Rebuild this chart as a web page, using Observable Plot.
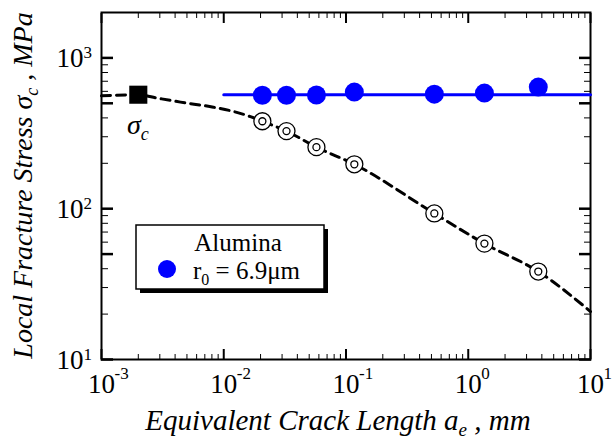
<!DOCTYPE html>
<html><head><meta charset="utf-8">
<script src="https://cdn.jsdelivr.net/npm/d3@7"></script>
<script src="https://cdn.jsdelivr.net/npm/@observablehq/plot@0.6"></script>
<style>body{margin:0;background:#fff} svg{display:block}</style>
</head><body><div id="chart"></div>
<script>
// ---- data ----
const crackLength = [0.0207, 0.0326, 0.0573, 0.117, 0.528, 1.356, 3.74];
const stressAlumina = [566, 566, 568, 593, 575, 584, 640];
const stressLocal = [380, 327, 256, 197, 93, 58.7, 38.3];
const sigmaC = 570;
const sigmaCCrack = 0.002;
const fitLineX = [0.01, 10];
const curveX = [0.001, 0.002, 0.00287, 0.00443, 0.00824, 0.01178, 0.01652, 0.0207, 0.0326, 0.0573, 0.117, 0.528, 1.356, 3.74, 10];
const curveY = [560, 570, 541, 509, 471, 443, 408, 380, 327, 256, 197, 93, 58.7, 38.3, 20.8];
const xMajor = [0.001, 0.01, 0.1, 1, 10];
const xExp = ["-3", "-2", "-1", "0", "1"];
const yMajor = [10, 100, 1000];
const yExp = ["1", "2", "3"];
const yMid = [50, 500];
const xTitle = ["Equivalent Crack Length a", "e", " , mm"];
const yTitle = ["Local Fracture Stress σ", "c", " , MPa"];
const legendTitle = "Alumina";
const legendLabel = ["r", "0", " = 6.9μm"];

const xMinor = [];
[0.001, 0.01, 0.1, 1].forEach(d => { for (let k = 2; k <= 9; k++) xMinor.push(d * k); });
const yMinor = [];
[10, 100, 1000].forEach(d => { for (let k = 2; k <= 9; k++) if (k !== 5 && d * k < 2000) yMinor.push(d * k); });

const pts = crackLength.map((a, i) => ({a, blue: stressAlumina[i], open: stressLocal[i]}));
const curve = curveX.map((a, i) => ({a, s: curveY[i]}));
const serif = "Liberation Serif, Times New Roman, serif";

const tickOpts = (anchor, size, w) => ({anchor, tickSize: size, strokeWidth: w, fill: "none", label: null,
  [anchor === "left" ? "insetLeft" : anchor === "right" ? "insetRight" : anchor === "top" ? "insetTop" : "insetBottom"]: size});

const chart = Plot.plot({
  width: 612, height: 442,
  marginLeft: 101, marginRight: 22, marginTop: 12, marginBottom: 83,
  style: {background: "#fff", color: "#000", fontFamily: serif},
  x: {type: "log", domain: [0.001, 10]},
  y: {type: "log", domain: [10, 2000]},
  marks: [
    Plot.axisX(xMajor, tickOpts("bottom", 10, 2)),
    Plot.axisX(xMinor, tickOpts("bottom", 5, 1)),
    Plot.axisX(xMajor, tickOpts("top", 10, 2)),
    Plot.axisX(xMinor, tickOpts("top", 5, 1)),
    Plot.axisY(yMajor.concat(yMid), tickOpts("left", 12, 2.5)),
    Plot.axisY(yMinor, tickOpts("left", 7, 1)),
    Plot.axisY(yMajor.concat(yMid), tickOpts("right", 12, 2.5)),
    Plot.axisY(yMinor, tickOpts("right", 7, 1)),
    Plot.frame({stroke: "#000", strokeWidth: 2}),
    Plot.text(xMajor, {x: d => d, text: () => "10", frameAnchor: "bottom", dx: 0, dy: 33, lineAnchor: "bottom", fontSize: 27, fontFamily: serif}),
    Plot.text(xMajor, {x: d => d, text: (d, i) => xExp[i], frameAnchor: "bottom", dx: 13, dy: 19, lineAnchor: "bottom", textAnchor: "start", fontSize: 17, fontFamily: serif}),
    Plot.text(yMajor, {y: d => d, text: () => "10", frameAnchor: "left", dx: -18, dy: 9, lineAnchor: "bottom", textAnchor: "end", fontSize: 27, fontFamily: serif}),
    Plot.text(yMajor, {y: d => d, text: (d, i) => yExp[i], frameAnchor: "left", dx: -18, dy: 0, lineAnchor: "bottom", textAnchor: "start", fontSize: 17, fontFamily: serif}),
    Plot.line(curve, {x: "a", y: "s", stroke: "#000", strokeWidth: 3, strokeDasharray: "9,6", curve: "monotone-x"}),
    Plot.line(fitLineX, {x: d => d, y: () => sigmaC, stroke: "#0000ff", strokeWidth: 3}),
    Plot.dot(pts, {x: "a", y: "blue", r: 9.5, fill: "#0000ff", stroke: "none"}),
    Plot.dot(pts, {x: "a", y: "open", r: 8.5, fill: "#fff", stroke: "#000", strokeWidth: 1.3}),
    Plot.dot(pts, {x: "a", y: "open", r: 3.5, fill: "none", stroke: "#000", strokeWidth: 1.3}),
    Plot.dot([sigmaCCrack], {x: d => d, y: () => sigmaC, symbol: "square", r: 10.2, fill: "#000", stroke: "none"})
  ]
});
document.getElementById("chart").appendChild(chart);

const svg = d3.select(chart);
function rich(g, parts, size, subSize, italic, anchor) {
  const t = g.attr("font-family", serif).attr("font-size", size).attr("font-style", italic ? "italic" : "normal")
    .attr("fill", "#000").attr("text-anchor", anchor || "start");
  t.append("tspan").text(parts[0]);
  t.append("tspan").attr("font-size", subSize).attr("dy", 6).text(parts[1]);
  if (parts[2]) t.append("tspan").attr("dy", -6).text(parts[2]);
  return t;
}
// axis titles
rich(svg.append("text").attr("x", 338).attr("y", 430), xTitle, 29, 19, true, "middle");
rich(svg.append("text").attr("transform", "translate(32,185.5) rotate(-90)"), yTitle, 28, 18, true, "middle");
// sigma_c label
rich(svg.append("text").attr("x", 127).attr("y", 134), ["σ", "c"], 28, 18, true, "start");
// legend
const lg = svg.append("g");
lg.append("rect").attr("x", 140).attr("y", 229).attr("width", 188).attr("height", 64).attr("fill", "#000");
lg.append("rect").attr("x", 136).attr("y", 225).attr("width", 188).attr("height", 64).attr("fill", "#fff").attr("stroke", "#000").attr("stroke-width", 1.5);
lg.append("text").attr("x", 238).attr("y", 251).attr("text-anchor", "middle").attr("font-family", serif).attr("font-size", 25).attr("fill", "#000").text(legendTitle);
lg.append("circle").attr("cx", 167).attr("cy", 269).attr("r", 9).attr("fill", "#0000ff");
rich(lg.append("text").attr("x", 193).attr("y", 279), legendLabel, 25, 16, false, "start");
</script>
</body></html>
